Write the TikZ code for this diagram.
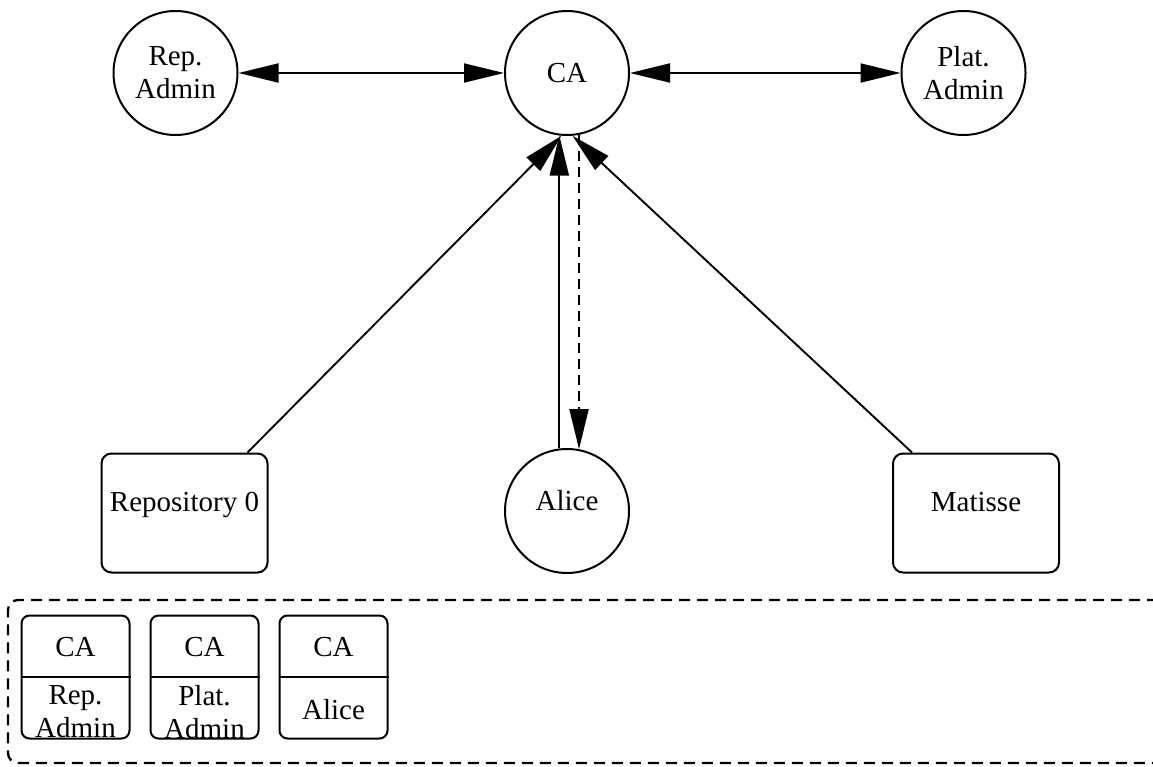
\documentclass[tikz,border=0pt]{standalone}
\usepackage{fontspec}
\setmainfont{Liberation Serif}
\usetikzlibrary{arrows.meta,calc}
\begin{document}
\begin{tikzpicture}[x=1pt,y=-1pt,
  every node/.style={font=\fontsize{29}{33}\selectfont},
  party/.style={circle,draw,line width=2pt,minimum size=124pt,inner sep=0pt,align=center},
  store/.style={draw,line width=2pt,rounded corners=10pt,minimum width=166pt,minimum height=119pt,
    text height=19pt,text depth=23pt},
  cert/.style={draw,line width=2pt,rounded corners=8pt,minimum width=108pt,minimum height=123pt},
  ring/.style={draw,line width=2.3pt,rounded corners=10pt,dash pattern=on 11pt off 7pt},
  link/.style={line width=1.9pt},
  head/.style={-{Triangle[length=40pt,width=19pt]}},
  twohead/.style={{Triangle[length=40pt,width=19pt]}-{Triangle[length=40pt,width=19pt]}},
  reply/.style={dash pattern=on 10pt off 6pt}
]
\useasboundingbox (0,0) rectangle (1153,767);

% principals
\node[party] (rep)   at (175.5,73) {Rep.\\Admin};
\node[party] (ca)    at (567,73)   {CA};
\node[party] (plat)  at (963.5,73) {Plat.\\Admin};
\node[party,text height=19pt,text depth=21pt] (alice) at (567,511) {Alice};

% stores
\node[store] (repo) at (184.5,513) {Repository 0};
\node[store] (mat)  at (976,513)   {Matisse};

% admin links
\draw[link,twohead] (rep) -- (ca);
\draw[link,twohead] (ca) -- (plat);

% requests to the CA
\draw[link,head] ($(repo.north east)+(-21,0)$) -- (ca.-95);
\draw[link,head] ($(mat.north west)+(20,0)$) -- (ca.-85);
\draw[link,head] (alice.97) -- (ca.-97);
\draw[link,reply,head] (ca.-79) -- (alice.79);

% certificate store
\node[ring,minimum width=1160pt,minimum height=163pt] (keys) at (588,681.5) {};

\node[cert] (k1) at (75.5,677) {};
\node[cert] (k2) at (204.5,677) {};
\node[cert] (k3) at (333.5,677) {};
\draw[link] (k1.west) -- (k1.east);
\draw[link] (k2.west) -- (k2.east);
\draw[link] (k3.west) -- (k3.east);

\node (k1a) at ($(k1.center)+(0,-30)$) {CA};
\node (k2a) at ($(k2.center)+(0,-30)$) {CA};
\node (k3a) at ($(k3.center)+(0,-30)$) {CA};
\node[align=center] (k1b) at ($(k1.center)+(0,35)$) {Rep.\\Admin};
\node[align=center] (k2b) at ($(k2.center)+(0,35)$) {Plat.\\Admin};
\node (k3b) at ($(k3.center)+(0,33)$) {Alice};
\end{tikzpicture}
\end{document}
